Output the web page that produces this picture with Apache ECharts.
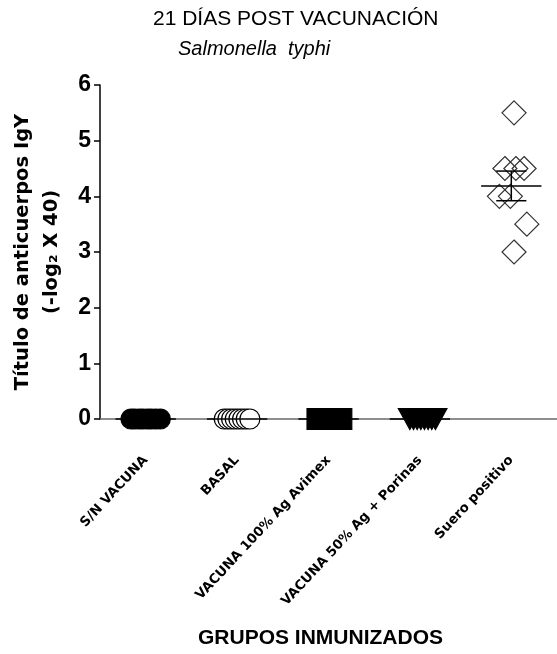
<!DOCTYPE html>
<html><head><meta charset="utf-8">
<script src="https://cdn.jsdelivr.net/npm/echarts@6/dist/echarts.min.js"></script>
<style>html,body{margin:0;padding:0;background:#fff}#c{width:557px;height:654px}</style>
</head><body><div id="c"></div>
<script>
const titleText = '21 DÍAS POST VACUNACIÓN';
const subtitleText = 'Salmonella  typhi';
const yAxisTitle = 'Título de anticuerpos IgY\n(-log₂ X 40)';
const xAxisTitle = 'GRUPOS INMUNIZADOS';
const categories = ['S/N VACUNA', 'BASAL', 'VACUNA 100% Ag Avimex', 'VACUNA 50% Ag + Porinas', 'Suero positivo'];
const yMin = 0, yMax = 6, yStep = 1;

// values per group, with the horizontal scatter jitter (in category units)
const snVacuna = [0, 0, 0, 0, 0, 0, 0, 0];
const snVacunaJitter = [-0.16, -0.12, -0.07, -0.03, 0.02, 0.06, 0.11, 0.16];
const basal = [0, 0, 0, 0, 0, 0, 0, 0];
const basalJitter = [-0.14, -0.10, -0.06, -0.02, 0.02, 0.06, 0.10, 0.14];
const vacuna100 = [0, 0, 0, 0, 0, 0, 0, 0];
const vacuna100Jitter = [-0.12, -0.08, -0.04, 0.0, 0.03, 0.07, 0.11, 0.14];
const vacuna50 = [0, 0, 0, 0, 0, 0, 0, 0];
const vacuna50Jitter = [-0.11, -0.07, -0.03, 0.01, 0.05, 0.09, 0.13, 0.17];
const sueroPositivo = [5.5, 4.5, 4.5, 4.5, 4.0, 4.0, 3.5, 3.0];
const sueroPositivoJitter = [0.03, -0.07, 0.05, 0.14, -0.13, -0.01, 0.17, 0.03];

const groups = [
  { vals: snVacuna, jit: snVacunaJitter, symbol: 'circle', size: 20, fill: '#000', stroke: '#000' },
  { vals: basal, jit: basalJitter, symbol: 'circle', size: 20, fill: '#fff', stroke: '#000' },
  { vals: vacuna100, jit: vacuna100Jitter, symbol: 'rect', size: 21, fill: '#000', stroke: '#000' },
  { vals: vacuna50, jit: vacuna50Jitter, symbol: 'triangle', size: [23, 21], rotate: 180, fill: '#000', stroke: '#000' },
  { vals: sueroPositivo, jit: sueroPositivoJitter, symbol: 'diamond', size: [24, 24], fill: 'none', stroke: '#333' }
];

function meanSem(a) {
  const n = a.length;
  const m = a.reduce((s, v) => s + v, 0) / n;
  const sd = Math.sqrt(a.reduce((s, v) => s + (v - m) * (v - m), 0) / (n - 1));
  return [m, sd / Math.sqrt(n)];
}

const scatterSeries = groups.map((g, gi) => ({
  type: 'scatter',
  xAxisIndex: 1,
  symbol: g.symbol,
  symbolSize: g.size,
  symbolRotate: g.rotate || 0,
  itemStyle: { color: g.fill === 'none' ? 'rgba(0,0,0,0)' : g.fill, borderColor: g.stroke, borderWidth: 1.2, opacity: 1 },
  emphasis: { disabled: true },
  z: 3,
  data: g.vals.map((v, i) => [gi + g.jit[i], v])
}));

const statData = groups.map((g, gi) => { const ms = meanSem(g.vals); return [gi, ms[0], ms[1]]; });

const statSeries = {
  type: 'custom',
  xAxisIndex: 0,
  z: 4,
  data: statData,
  renderItem: function (params, api) {
    const x = api.value(0), m = api.value(1), s = api.value(2);
    const pm = api.coord([x, m]);
    const ph = api.coord([x, m + s]);
    const pl = api.coord([x, m - s]);
    const band = api.size([1, 0])[0];
    const hw = band * 0.33, cw = band * 0.165;
    const st = { stroke: '#000', lineWidth: 1.5 };
    const children = [
      { type: 'line', shape: { x1: pm[0] - hw, y1: pm[1], x2: pm[0] + hw, y2: pm[1] }, style: st }
    ];
    if (s > 0) {
      children.push({ type: 'line', shape: { x1: ph[0], y1: ph[1], x2: pl[0], y2: pl[1] }, style: st });
      children.push({ type: 'line', shape: { x1: ph[0] - cw, y1: ph[1], x2: ph[0] + cw, y2: ph[1] }, style: st });
      children.push({ type: 'line', shape: { x1: pl[0] - cw, y1: pl[1], x2: pl[0] + cw, y2: pl[1] }, style: st });
    }
    return { type: 'group', children: children };
  }
};

const chart = echarts.init(document.getElementById('c'), null, { renderer: 'canvas' });
chart.setOption({
  animation: false,
  backgroundColor: '#fff',
  title: [
    { text: titleText, left: 153, top: 9, padding: 0,
      textStyle: { fontFamily: 'Liberation Sans, Arial, sans-serif', fontSize: 21, fontWeight: 'normal', color: '#000' } },
    { text: subtitleText, left: 178, top: 39, padding: 0,
      textStyle: { fontFamily: 'Liberation Sans, Arial, sans-serif', fontSize: 20, fontWeight: 'normal', fontStyle: 'italic', color: '#000' } }
  ],
  grid: { left: 100, top: 85, width: 468, height: 334, containLabel: false },
  xAxis: [
    {
      type: 'category', data: categories, boundaryGap: true,
      axisLine: { show: true, onZero: true, lineStyle: { color: '#6a6a6a', width: 1.5 } },
      axisTick: { show: false },
      axisLabel: { interval: 0, rotate: 47, margin: 39, fontFamily: 'DejaVu Sans, sans-serif', fontWeight: 'bold', fontSize: 13.3, color: '#000' },
      splitLine: { show: false }
    },
    { type: 'value', min: -0.5, max: 4.5, show: false, splitLine: { show: false } }
  ],
  yAxis: {
    type: 'value', min: yMin, max: yMax, interval: yStep,
    name: yAxisTitle, nameLocation: 'middle', nameRotate: 90, nameGap: 34,
    nameTextStyle: { fontFamily: 'DejaVu Sans, sans-serif', fontWeight: 'bold', fontSize: 19.5, color: '#000', lineHeight: 29 },
    axisLine: { show: true, onZero: false, lineStyle: { color: '#000', width: 1.5 } },
    axisTick: { show: true, inside: false, length: 6, lineStyle: { color: '#000', width: 1.5 } },
    axisLabel: { margin: 9, fontFamily: 'Liberation Sans, Arial, sans-serif', fontWeight: 'bold', fontSize: 23, color: '#000' },
    splitLine: { show: false }
  },
  graphic: [
    { type: 'text', left: 198, top: 628, style: { text: xAxisTitle, fontFamily: 'Liberation Sans, Arial, sans-serif', fontWeight: 'bold', fontSize: 21, fill: '#000' } }
  ],
  series: scatterSeries.concat([statSeries])
});
</script></body></html>
